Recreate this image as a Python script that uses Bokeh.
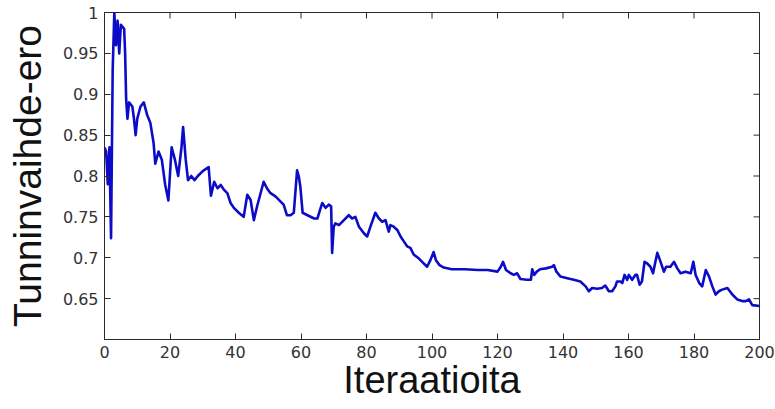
import math
from bokeh.plotting import figure
from bokeh.models import FixedTicker, Range1d
from bokeh.embed import file_html
from bokeh.resources import INLINE

# ---- data ----
iterations = [0, 0.5, 1, 1.5, 2, 2.5, 3, 3.5, 4, 4.5, 5, 6, 6.3, 6.6, 7, 7.5, 8.5, 9, 9.5, 10,
              11, 12, 13, 14, 15, 15.5, 16.5, 17.5, 18.5, 19.5, 20.5, 21.5, 22.5, 23.5, 24, 24.8,
              25.5, 26.5, 27.5, 28.5, 30, 31.8, 32.5, 33.5, 34.5, 35.5, 36.5, 37.5, 38.5, 39.5,
              41, 42.5, 43.6, 44.6, 45.6, 46.6, 48.6, 49.6, 50.7, 52.2, 53.7, 54.7, 55.7, 56.8,
              57.8, 58.8, 59.3, 59.8, 60.5, 62, 64, 65, 66, 66.5, 67.5, 68.5, 69.2, 69.5, 70,
              70.5, 71.6, 73.1, 74.6, 75.6, 76.6, 77.7, 79.2, 80.2, 81.2, 82.7, 83.8, 84.8, 85.8,
              86.8, 87.3, 88.3, 89.4, 90.4, 91.4, 92.4, 93.4, 94.4, 96, 97, 98.5, 99.5, 100.5,
              101.2, 102.3, 103.6, 106, 110, 114, 117, 120, 121, 121.7, 122.6, 124, 125, 126, 127,
              129, 130.2, 130.6, 131.2, 132, 133, 134.8, 136.7, 137.2, 138, 139.2, 141.3, 143.3,
              145.3, 146.9, 147.9, 148.9, 150.4, 151.9, 152.9, 154, 155, 156, 156.5, 157.6, 158.1,
              158.8, 159.6, 160.1, 161.1, 162.1, 162.6, 163.4, 164.1, 164.9, 165.7, 166.7, 167.5,
              168.1, 168.8, 169.8, 170.8, 171.5, 172.8, 173.9, 174.9, 175.9, 177.4, 179, 179.8,
              180.5, 181.6, 182.5, 183.6, 184.6, 185.6, 186.6, 187.6, 188.6, 190.2, 191.7, 193.2,
              194.7, 195.8, 196.8, 197.8, 200]
difference = [0.835, 0.83, 0.79, 0.835, 0.724, 0.93, 1.0, 0.96, 0.99, 0.95, 0.985, 0.98, 0.95,
              0.895, 0.87, 0.89, 0.885, 0.87, 0.85, 0.87, 0.885, 0.89, 0.875, 0.865, 0.84, 0.815,
              0.83, 0.82, 0.79, 0.77, 0.835, 0.82, 0.80, 0.835, 0.86, 0.82, 0.795, 0.80, 0.795,
              0.80, 0.806, 0.811, 0.776, 0.793, 0.785, 0.789, 0.783, 0.779, 0.767, 0.761, 0.755,
              0.750, 0.777, 0.771, 0.746, 0.763, 0.793, 0.785, 0.779, 0.775, 0.769, 0.765, 0.752,
              0.752, 0.755, 0.807, 0.80, 0.787, 0.755, 0.752, 0.748, 0.748, 0.761, 0.767, 0.761,
              0.765, 0.763, 0.706, 0.738, 0.742, 0.740, 0.746, 0.752, 0.748, 0.750, 0.738, 0.730,
              0.726, 0.738, 0.755, 0.748, 0.744, 0.746, 0.732, 0.740, 0.738, 0.734, 0.726, 0.72,
              0.714, 0.712, 0.704, 0.699, 0.695, 0.689, 0.697, 0.707, 0.697, 0.691, 0.688, 0.686,
              0.686, 0.685, 0.685, 0.683, 0.689, 0.695, 0.685, 0.681, 0.679, 0.681, 0.674, 0.673,
              0.673, 0.686, 0.679, 0.683, 0.686, 0.687, 0.689, 0.691, 0.683, 0.677, 0.675, 0.673,
              0.671, 0.665, 0.659, 0.663, 0.662, 0.663, 0.666, 0.659, 0.659, 0.665, 0.671, 0.671,
              0.669, 0.679, 0.673, 0.679, 0.673, 0.679, 0.679, 0.667, 0.671, 0.695, 0.693, 0.689,
              0.681, 0.693, 0.706, 0.695, 0.683, 0.689, 0.689, 0.695, 0.687, 0.681, 0.683, 0.681,
              0.695, 0.679, 0.669, 0.665, 0.685, 0.677, 0.665, 0.655, 0.659, 0.661, 0.663, 0.655,
              0.649, 0.647, 0.647, 0.649, 0.642, 0.641]

x_ticks = [0, 20, 40, 60, 80, 100, 120, 140, 160, 180, 200]
y_ticks = [0.65, 0.7, 0.75, 0.8, 0.85, 0.9, 0.95, 1.0]
y_tick_labels = ["0.65", "0.7", "0.75", "0.8", "0.85", "0.9", "0.95", "1"]
x_title = "Iteraatioita"
y_title = "Tunninvaihde-ero"

AX = "#2a2a2a"
TICK_FONT = "DejaVu Sans"
TITLE_FONT = "Liberation Sans"

xr = Range1d(0, 200)
yr = Range1d(0.6, 1.0)
p = figure(width=775, height=409, output_backend="svg", toolbar_location=None,
           x_range=xr, y_range=yr,
           min_border_left=104, min_border_right=16, min_border_top=12, min_border_bottom=70)
p.grid.visible = False
p.background_fill_color = "white"
p.outline_line_color = AX
p.outline_line_width = 1

p.line(iterations, difference, line_color="#0c0cc8", line_width=2.6, line_join="round")

# inward ticks on the top and right edges of the box (MATLAB "box on")
p.ray(x=x_ticks, y=[yr.end] * len(x_ticks), length=6, length_units="screen",
      angle=-math.pi / 2, line_color=AX, line_width=1)
p.ray(x=[xr.end] * len(y_ticks), y=y_ticks, length=6, length_units="screen",
      angle=math.pi, line_color=AX, line_width=1)


def style_axis(ax, title, title_size, title_standoff):
    ax.axis_line_color = AX
    ax.axis_line_width = 1
    ax.major_tick_line_color = AX
    ax.major_tick_in = 6
    ax.major_tick_out = 0
    ax.minor_tick_line_color = None
    ax.major_label_text_font = TICK_FONT
    ax.major_label_text_font_size = "16px"
    ax.major_label_text_color = "#333333"
    ax.major_label_standoff = 6
    ax.axis_label = title
    ax.axis_label_text_font = TITLE_FONT
    ax.axis_label_text_font_size = title_size
    ax.axis_label_text_font_style = "normal"
    ax.axis_label_text_color = "#111111"
    ax.axis_label_standoff = title_standoff


xa = p.xaxis[0]
ya = p.yaxis[0]
xa.ticker = FixedTicker(ticks=x_ticks)
ya.ticker = FixedTicker(ticks=y_ticks)
ya.major_label_overrides = {t: l for t, l in zip(y_ticks, y_tick_labels)}
style_axis(xa, x_title, "38px", -2)
style_axis(ya, y_title, "39px", 11)

open("out.html", "w").write(file_html(p, INLINE))
